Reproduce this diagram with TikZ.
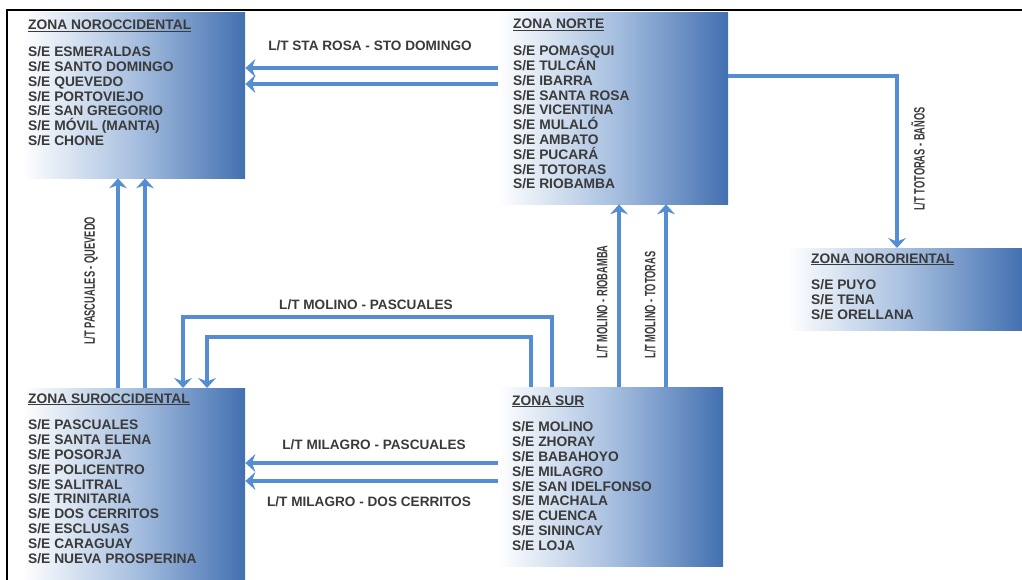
\documentclass[tikz,border=0pt]{standalone}
\usepackage{fontspec}
\setmainfont{Liberation Sans}
\usetikzlibrary{arrows.meta}
\definecolor{lineblue}{RGB}{84,141,212}
\definecolor{boxblue}{RGB}{66,112,176}
\definecolor{boxmid}{RGB}{168,192,224}
\definecolor{txtgray}{RGB}{58,58,58}
\begin{document}
\begin{tikzpicture}[x=1pt,y=-1pt,
  zone/.style={draw=none, inner sep=0pt, anchor=north west,
    left color=white, right color=boxblue, middle color=boxmid},
  zonetext/.style={anchor=base west, inner sep=0pt, text=txtgray,
    font=\fontsize{13.8}{14.8}\selectfont\bfseries},
  lab/.style={inner sep=0pt, text=txtgray, font=\fontsize{13.6}{14}\selectfont\bfseries},
  vlab/.style={inner sep=0pt, text=txtgray, rotate=90, font=\fontsize{15}{15}\selectfont\bfseries},
  link/.style={draw=lineblue, line width=3.8pt, -{Stealth[length=10pt,width=18pt,inset=3.5pt]}}
]
\useasboundingbox (0,0) rectangle (1022,580);
% frame (top and left edges)
\coordinate (fa) at (7,580);
\coordinate (fb) at (7,10);
\coordinate (fc) at (1022,10);
\draw[line width=1.6pt, black] (fa) -- (fb) -- (fc);

% zone boxes
\node[zone, minimum width=223pt, minimum height=166pt] (nw) at (22,12) {};
\node[zone, minimum width=230pt, minimum height=192pt] (n) at (498,12) {};
\node[zone, minimum width=235pt, minimum height=82pt] (ne) at (787,248) {};
\node[zone, minimum width=223pt, minimum height=192pt] (sw) at (22,388) {};
\node[zone, minimum width=225pt, minimum height=179pt] (s) at (498,387) {};

% zone texts
\node[zonetext] (nwt) at (28,30) {\begin{tabular}[t]{@{}l@{}}\underline{ZONA NOROCCIDENTAL}\\[12pt]
S/E ESMERALDAS\\ S/E SANTO DOMINGO\\ S/E QUEVEDO\\ S/E PORTOVIEJO\\ S/E SAN GREGORIO\\ S/E M\smash{Ó}VIL \smash{(MANTA)}\\ S/E CHONE\end{tabular}};
\node[zonetext] (nt) at (513,29) {\begin{tabular}[t]{@{}l@{}}\underline{ZONA NORTE}\\[12pt]
S/E POMASQUI\\ S/E TULC\smash{Á}N\\ S/E IBARRA\\ S/E SANTA ROSA\\ S/E VICENTINA\\ S/E MULAL\smash{Ó}\\ S/E AMBATO\\ S/E PUCAR\smash{Á}\\ S/E TOTORAS\\ S/E RIOBAMBA\end{tabular}};
\node[zonetext] (net) at (811,263) {\begin{tabular}[t]{@{}l@{}}\underline{ZONA NORORIENTAL}\\[12pt]
S/E PUYO\\ S/E TENA\\ S/E ORELLANA\end{tabular}};
\node[zonetext] (swt) at (28,403) {\begin{tabular}[t]{@{}l@{}}\underline{ZONA SUROCCIDENTAL}\\[12pt]
S/E PASCUALES\\ S/E SANTA ELENA\\ S/E POSORJA\\ S/E POLICENTRO\\ S/E SALITRAL\\ S/E TRINITARIA\\ S/E DOS CERRITOS\\ S/E ESCLUSAS\\ S/E CARAGUAY\\ S/E NUEVA PROSPERINA\end{tabular}};
\node[zonetext] (st) at (512,405) {\begin{tabular}[t]{@{}l@{}}\underline{ZONA SUR}\\[12pt]
S/E MOLINO\\ S/E ZHORAY\\ S/E BABAHOYO\\ S/E MILAGRO\\ S/E SAN IDELFONSO\\ S/E MACHALA\\ S/E CUENCA\\ S/E SININCAY\\ S/E LOJA\end{tabular}};

% connectors
% Sta Rosa - Sto Domingo
\draw[link] (n.west |- 0,68) -- (nw.east |- 0,68);
\draw[link] (n.west |- 0,84) -- (nw.east |- 0,84);
% Totoras - Banos
\draw[link] (n.east |- 0,76) -| (ne.north -| 897,0);
% Pascuales - Quevedo
\draw[link] (sw.north -| 118,0) -- (nw.south -| 118,0);
\draw[link] (sw.north -| 145,0) -- (nw.south -| 145,0);
% Molino - Pascuales
\draw[link] (s.north -| 552,0) -- (552,317) -- (183,317) -- (sw.north -| 183,0);
\draw[link] (s.north -| 531,0) -- (531,337) -- (207,337) -- (sw.north -| 207,0);
% Molino - Riobamba / Totoras
\draw[link] (s.north -| 619,0) -- (n.south -| 619,0);
\draw[link] (s.north -| 666,0) -- (n.south -| 666,0);
% Milagro - Pascuales / Dos Cerritos
\draw[link] (s.west |- 0,463) -- (sw.east |- 0,463);
\draw[link] (s.west |- 0,481) -- (sw.east |- 0,481);

% labels
\node[lab] (l1) at (370,46) {L/T STA ROSA - STO DOMINGO};
\node[lab] (l2) at (366,305) {L/T MOLINO - PASCUALES};
\node[lab] (l3) at (374,445) {L/T MILAGRO - PASCUALES};
\node[lab] (l4) at (369,502) {L/T MILAGRO - DOS CERRITOS};
\node[vlab] (v1) at (91,281) {\scalebox{0.62}[1]{L/T PASCUALES - QUEVEDO}};
\node[vlab] (v2) at (602,302) {\scalebox{0.62}[1]{L/T MOLINO - RIOBAMBA}};
\node[vlab] (v3) at (650,305) {\scalebox{0.62}[1]{L/T MOLINO - TOTORAS}};
\node[vlab] (v4) at (918,159) {\scalebox{0.62}[1]{L/T TOTORAS - BAÑOS}};
\end{tikzpicture}
\end{document}
